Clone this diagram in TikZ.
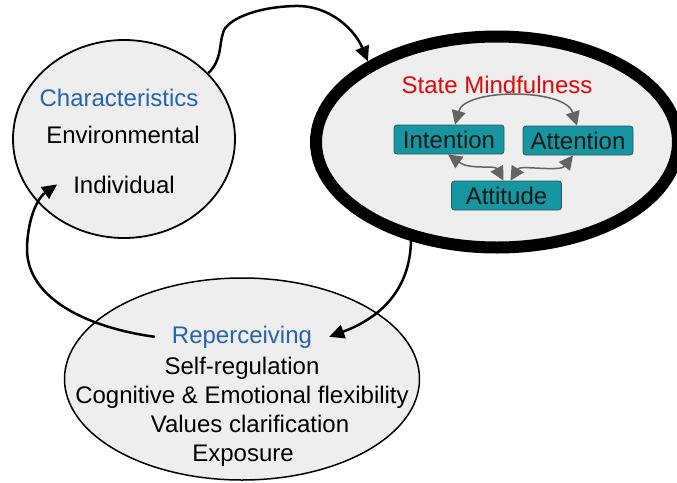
\documentclass[tikz,border=0pt]{standalone}
\usepackage{fontspec}
\setmainfont{Liberation Sans}
\usetikzlibrary{shapes.geometric,arrows.meta}
\definecolor{ellfill}{RGB}{238,238,238}
\definecolor{hblue}{RGB}{35,100,175}
\definecolor{hred}{RGB}{225,10,10}
\definecolor{tealbox}{RGB}{22,150,160}
\definecolor{tealedge}{RGB}{50,85,90}
\definecolor{arrgray}{RGB}{100,100,100}
\begin{document}
\begin{tikzpicture}[x=1pt,y=-1pt,
  every node/.style={font=\fontsize{24}{28}\selectfont},
  ell/.style={ellipse,draw=black,fill=ellfill,inner sep=0pt},
  lbl/.style={anchor=base,inner sep=0pt},
  mbox/.style={rectangle,rounded corners=3pt,draw=tealedge,line width=0.8pt,fill=tealbox,
    minimum width=110pt,minimum height=29pt,inner sep=0pt,text height=17pt,text depth=0pt,text=black!90},
  bigarrow/.style={line width=2.5pt,-{Triangle[length=15pt,width=14pt]}},
  smallarrow/.style={draw=arrgray,line width=1.5pt,
    {Triangle[length=14pt,width=14pt]}-{Triangle[length=14pt,width=14pt]}}
]
\useasboundingbox (0,0) rectangle (677,482);
% ellipses
\node[ell,line width=1.8pt,minimum width=222pt,minimum height=198pt] (char) at (124,139) {};
\node[ell,line width=12pt,minimum width=362pt,minimum height=211pt] (state) at (497,142) {};
\node[ell,line width=1.5pt,minimum width=355pt,minimum height=202pt] (repell) at (242,379) {};
% texts left ellipse
\node[lbl,text=hblue] (charT) at (119,106) {Characteristics};
\node[lbl] (env) at (123,143) {Environmental};
\node[lbl,inner xsep=16pt] (ind) at (124,193) {Individual};
% state mindfulness
\node[lbl,text=hred] (smT) at (497,93) {State Mindfulness};
\node[mbox] (int) at (449,139.5) {Intention};
\node[mbox] (att) at (578,140.5) {Attention};
\node[mbox] (atd) at (506.5,195.5) {Attitude};
% reperceiving
\node[lbl,text=hblue,inner xsep=17pt] (rep) at (242,343) {Reperceiving};
\node[lbl] (sr) at (242,374) {Self-regulation};
\node[lbl] (cog) at (242,403) {Cognitive \& Emotional flexibility};
\node[lbl] (val) at (250,432) {Values clarification};
\node[lbl] (exp) at (243,461) {Exposure};
% inner gray arrows
\draw[smallarrow] ([xshift=6pt]int.north) .. controls (465,88) and (565,88) .. ([xshift=-1pt]att.north);
\draw[smallarrow] ([xshift=-1pt]int.south) .. controls (470,170) and (495,165) .. ([xshift=-3pt]atd.north);
\draw[smallarrow] ([xshift=-5pt]att.south) .. controls (560,172) and (520,165) .. ([xshift=4pt]atd.north);
% black arrows
\draw[bigarrow] (char.38) .. controls (222,60) and (219,45) .. (223,33)
  .. controls (226,20) and (255,7) .. (295,6)
  .. controls (330,5) and (355,30) .. (state.148);
\draw[bigarrow] (state.-131) .. controls (410,290) and (380,318) .. (rep.east);
\draw[bigarrow] (rep.west) .. controls (90,328) and (28,300) .. (27,250)
  .. controls (27,225) and (35,200) .. (ind.west);
\end{tikzpicture}
\end{document}
